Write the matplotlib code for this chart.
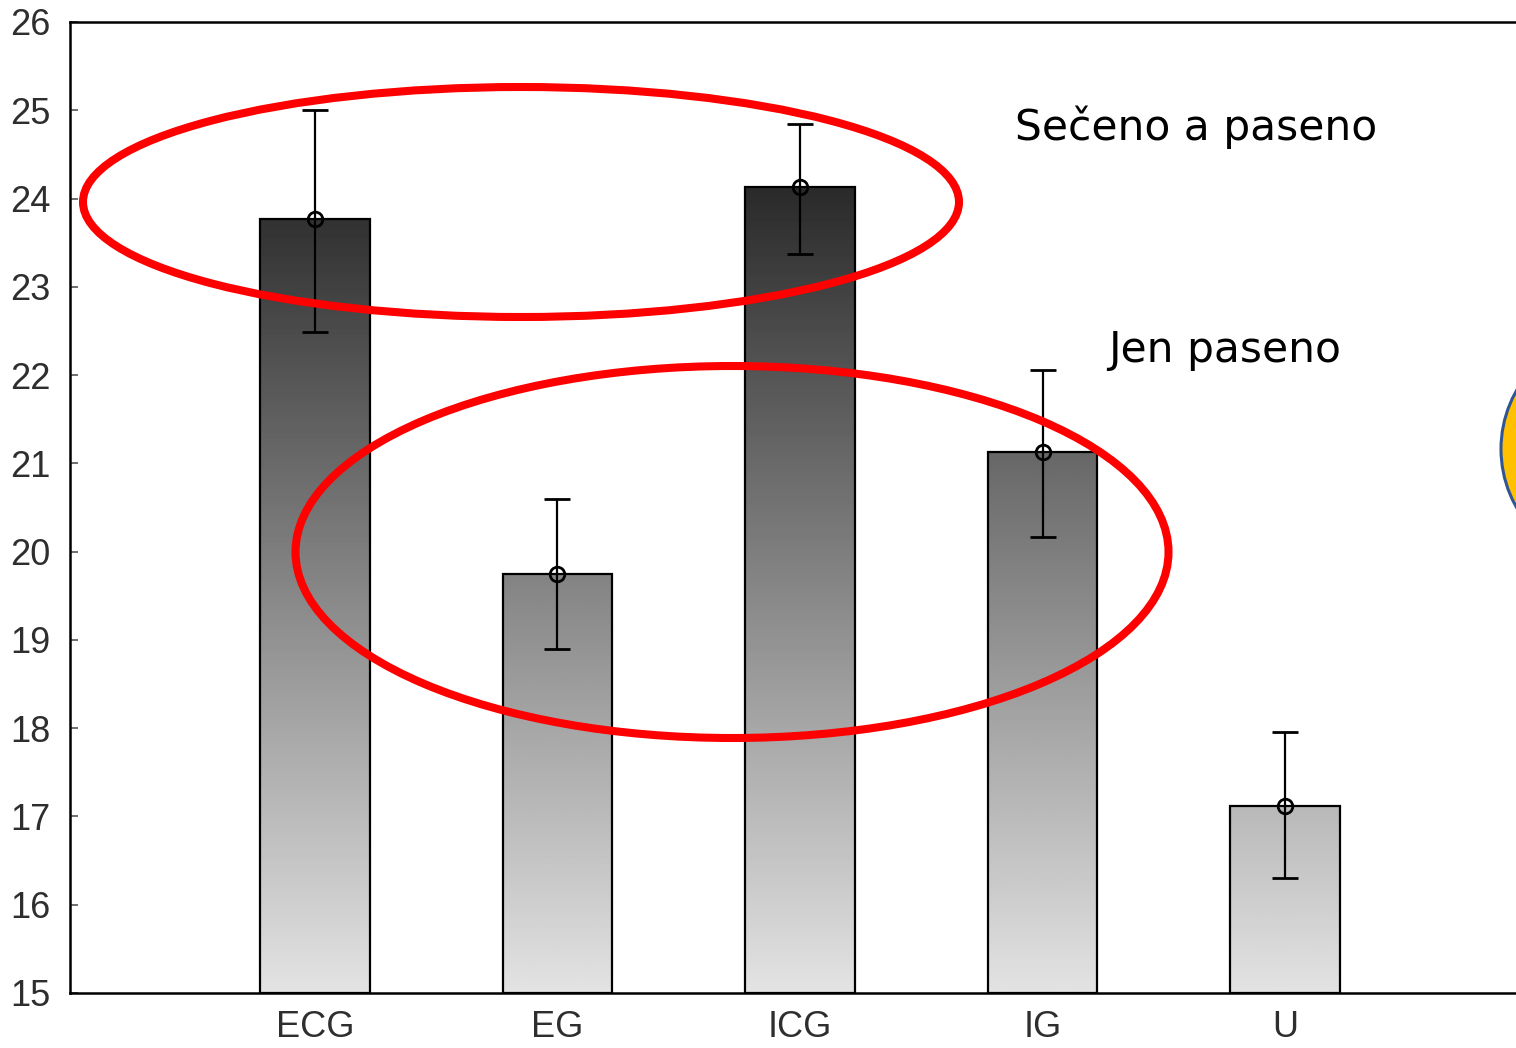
import numpy as np
import matplotlib
matplotlib.use("Agg")
import matplotlib.pyplot as plt
from matplotlib.patches import Ellipse

# group means with error bar limits
groups = ["ECG", "EG", "ICG", "IG", "U"]
means = [23.77, 19.75, 24.13, 21.13, 17.12]
err_hi = [25.00, 20.60, 24.85, 22.06, 17.96]
err_lo = [22.49, 18.90, 23.37, 20.17, 16.30]

y_ticks = list(range(15, 27))

W, H = 1516, 1048
fig = plt.figure(figsize=(W / 100, H / 100), dpi=100)
ax = fig.add_axes([70 / W, 55 / H, 1460 / W, 971 / H])

x = np.arange(len(groups))
bar_w = 0.45
y0 = 15.0


def shade(y):
    # grey level falls off with height: light at the base, dark near the top
    return 0.89 - (y - y0) / 9.2 * 0.73


bars = ax.bar(x, np.array(means) - y0, bottom=y0, width=bar_w,
              facecolor="none", edgecolor="black", linewidth=1.6, zorder=3)
for rect, top in zip(bars, means):
    ys = np.linspace(y0, top, 256)
    img = np.repeat(shade(ys)[:, None], 2, axis=1)
    im = ax.imshow(img, cmap="gray", vmin=0, vmax=1, origin="lower",
                   aspect="auto", interpolation="bilinear", zorder=2,
                   extent=(rect.get_x(), rect.get_x() + bar_w, y0, top))
    im.set_clip_path(rect)

yerr = [np.array(means) - np.array(err_lo), np.array(err_hi) - np.array(means)]
ax.errorbar(x, means, yerr=yerr, fmt="o", color="black", mfc="none",
            mec="black", ms=10.5, mew=2.0, elinewidth=1.6, capsize=9.5,
            capthick=1.6, zorder=4)

ax.set_xlim(-1.01, len(groups) - 1 + 1.01)
ax.set_ylim(15, 26)
ax.set_yticks(y_ticks)
ax.set_xticks(x)
ax.set_xticklabels(groups)
ax.tick_params(axis="y", direction="in", length=6, width=1.2, color="#555555",
               labelsize=26, labelcolor="#2e2e2e", pad=14)
ax.tick_params(axis="x", length=0, labelsize=26, labelcolor="#2e2e2e", pad=12)
for lab in ax.get_xticklabels() + ax.get_yticklabels():
    lab.set_family("Liberation Sans")
for side in ["left", "bottom", "top"]:
    ax.spines[side].set_linewidth(1.8)
ax.spines["right"].set_visible(False)

# highlight rings and notes in figure pixels
px = fig.transFigure
red_rings = [(521, 202, 876, 230), (732, 552, 873, 372)]
for cx, cy, ew, eh in red_rings:
    fig.add_artist(Ellipse((cx / W, 1 - cy / H), ew / W, eh / H,
                           transform=px, fill=False, edgecolor="#ff0000",
                           linewidth=5.8, zorder=10))

fig.add_artist(Ellipse((1619 / W, 1 - 449 / H), 236 / W, 236 / H,
                       transform=px, facecolor="#ffc000", edgecolor="#2f5597",
                       linewidth=2.2, zorder=10))

fig.text(1015 / W, 1 - 140 / H, "Sečeno a paseno", fontsize=30.5,
         family="DejaVu Sans", color="black", va="baseline", ha="left")
fig.text(1108 / W, 1 - 362 / H, "Jen paseno", fontsize=30.5,
         family="DejaVu Sans", color="black", va="baseline", ha="left")

fig.savefig("out.png", dpi=100)
